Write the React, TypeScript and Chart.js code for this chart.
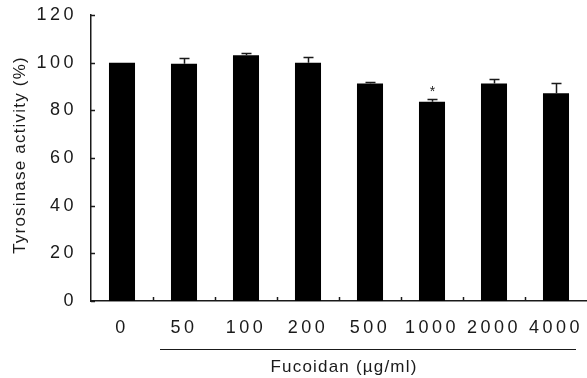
import React, { useEffect, useRef } from 'react';
import { Chart, registerables } from 'chart.js';

Chart.register(...registerables);

const categories = ['0', '50', '100', '200', '500', '1000', '2000', '4000'];
const values = [100, 99.5, 103.1, 100, 91.3, 83.6, 91.3, 87.2];
const errors = [0, 2.3, 0.8, 2.4, 0.7, 1.3, 2.0, 4.1];
const marks = ['', '', '', '', '', '*', '', ''];
const yMin = 0;
const yMax = 120;
const yStep = 20;
const yTitle = 'Tyrosinase activity (%)';
const xTitle = 'Fucoidan (µg/ml)';

const FONT = '"Liberation Sans", Arial, sans-serif';
const INK = '#1a1a1a';

const decorPlugin = {
  id: 'decor',
  beforeDraw(chart: any) {
    (chart.ctx as any).letterSpacing = '3.5px';
  },
  beforeDatasetsDraw(chart: any) {
    (chart.ctx as any).letterSpacing = '0px';
  },
  afterDatasetsDraw(chart: any) {
    const ctx = chart.ctx;
    const x = chart.scales.x;
    const y = chart.scales.y;
    const area = chart.chartArea;
    ctx.save();
    (ctx as any).letterSpacing = '0px';
    ctx.strokeStyle = INK;
    ctx.lineWidth = 1.5;
    // inward ticks on y axis
    for (let v = yMin; v <= yMax; v += yStep) {
      const py = Math.round(y.getPixelForValue(v)) + 0.5;
      ctx.beginPath();
      ctx.moveTo(area.left, py);
      ctx.lineTo(area.left + 4, py);
      ctx.stroke();
    }
    // inward ticks on x axis at category boundaries
    for (let i = 1; i < categories.length; i++) {
      const px = Math.round((x.getPixelForValue(i - 1) + x.getPixelForValue(i)) / 2) + 0.5;
      ctx.beginPath();
      ctx.moveTo(px, area.bottom);
      ctx.lineTo(px, area.bottom - 4);
      ctx.stroke();
    }
    // error bars
    ctx.lineWidth = 1.5;
    values.forEach((v, i) => {
      const e = errors[i];
      const cx = Math.round(x.getPixelForValue(i)) + 0.5;
      const top = y.getPixelForValue(v + e);
      if (e > 0) {
        const base = y.getPixelForValue(v);
        ctx.beginPath();
        ctx.moveTo(cx, base);
        ctx.lineTo(cx, top);
        ctx.moveTo(cx - 5, Math.round(top) + 0.5);
        ctx.lineTo(cx + 5, Math.round(top) + 0.5);
        ctx.stroke();
      }
      if (marks[i]) {
        ctx.fillStyle = INK;
        ctx.font = '14px ' + FONT;
        ctx.textAlign = 'center';
        ctx.textBaseline = 'alphabetic';
        ctx.fillText(marks[i], cx, top - 3);
      }
    });
    // underline for treatment group
    const x1 = x.getPixelForValue(1) - 24;
    const x2 = x.getPixelForValue(categories.length - 1) + 20;
    ctx.lineWidth = 1;
    ctx.beginPath();
    ctx.moveTo(x1, 349.5);
    ctx.lineTo(x2, 349.5);
    ctx.stroke();
    // titles
    (ctx as any).letterSpacing = '1.2px';
    ctx.fillStyle = INK;
    ctx.font = '17px ' + FONT;
    ctx.textAlign = 'center';
    ctx.textBaseline = 'middle';
    ctx.fillText(xTitle, 344, 367);
    ctx.save();
    ctx.translate(20, 155);
    ctx.rotate(-Math.PI / 2);
    ctx.fillText(yTitle, 0, 0);
    ctx.restore();
    ctx.restore();
  },
};

export default function App() {
  const ref = useRef<HTMLCanvasElement | null>(null);
  useEffect(() => {
    document.body.style.margin = '0';
    if (!ref.current) return;
    const chart = new Chart(ref.current, {
      type: 'bar',
      data: {
        labels: categories,
        datasets: [
          {
            data: values,
            backgroundColor: '#000000',
            borderColor: '#000000',
            borderWidth: 0,
            barPercentage: 0.42,
            categoryPercentage: 1,
          },
        ],
      },
      options: {
        responsive: true,
        maintainAspectRatio: false,
        animation: false,
        devicePixelRatio: 1,
        layout: { padding: { top: 0, right: 0, left: 0, bottom: 0 } },
        plugins: {
          legend: { display: false },
          tooltip: { enabled: false },
          title: { display: false },
        },
        scales: {
          x: {
            grid: { display: false, drawTicks: false },
            border: { display: true, color: INK, width: 1.5 },
            ticks: {
              color: INK,
              font: { family: FONT, size: 18 },
              padding: 16,
              maxRotation: 0,
              autoSkip: false,
            },
            afterFit: (s: any) => {
              s.height = 77;
              s.paddingLeft = 0;
              s.paddingRight = 0;
            },
          },
          y: {
            min: yMin,
            max: yMax,
            grid: { display: false, drawTicks: false },
            border: { display: true, color: INK, width: 1.5 },
            ticks: {
              stepSize: yStep,
              color: INK,
              font: { family: FONT, size: 18 },
              padding: 14,
            },
            afterFit: (s: any) => {
              s.width = 91;
              s.paddingTop = 15;
              s.paddingBottom = 0;
            },
          },
        },
      },
      plugins: [decorPlugin],
    });
    return () => chart.destroy();
  }, []);
  return (
    <div style={{ position: 'fixed', left: 0, top: 0, width: 587, height: 378, background: '#fff' }}>
      <canvas ref={ref} />
    </div>
  );
}
